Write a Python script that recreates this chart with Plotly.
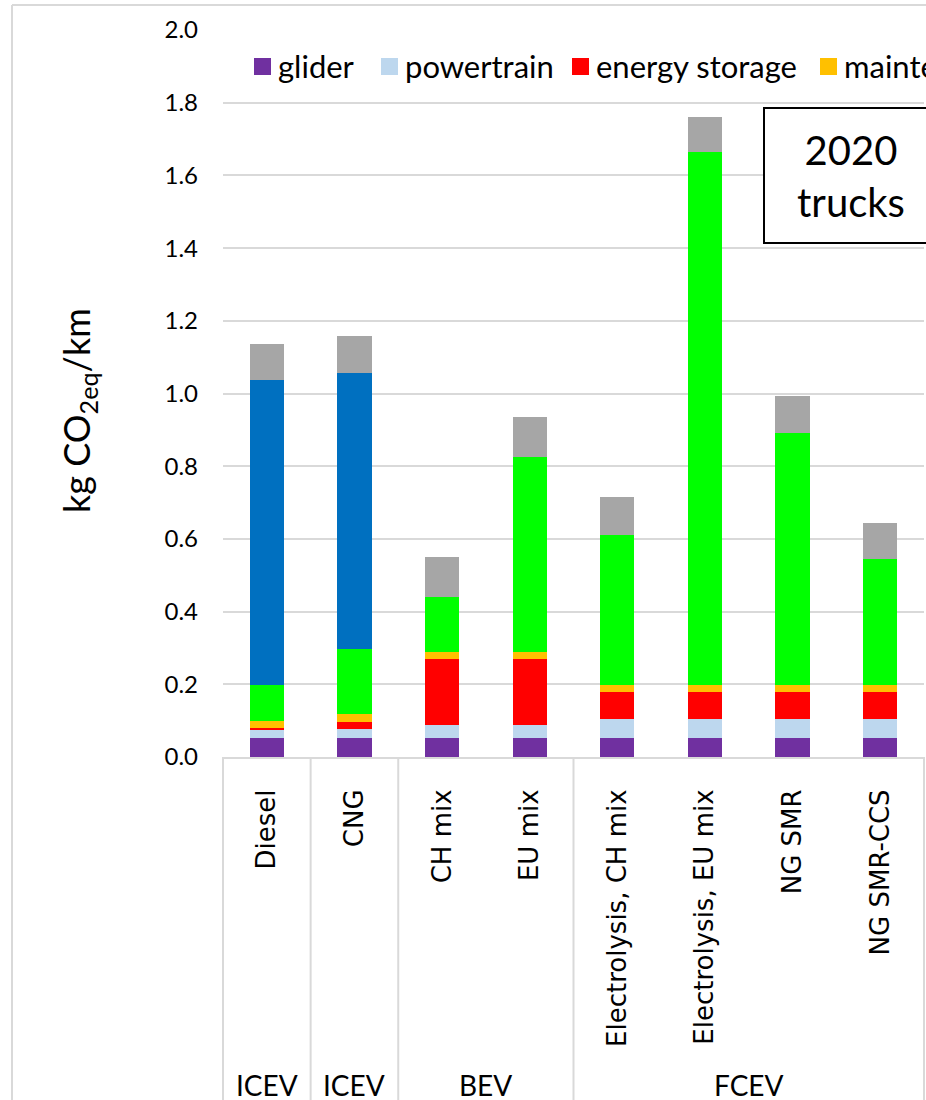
import plotly.graph_objects as go

# Life-cycle GHG emissions of 2020 trucks, kg CO2-eq per km, by component
categories = ["Diesel", "CNG", "CH mix", "EU mix",
              "Electrolysis, CH mix", "Electrolysis, EU mix", "NG SMR", "NG SMR-CCS"]
glider = [0.052, 0.052, 0.052, 0.052, 0.052, 0.052, 0.052, 0.052]
powertrain = [0.024, 0.024, 0.035, 0.035, 0.053, 0.053, 0.053, 0.053]
energy_storage = [0.005, 0.020, 0.183, 0.183, 0.073, 0.073, 0.073, 0.073]
maintenance = [0.018, 0.022, 0.019, 0.019, 0.019, 0.019, 0.019, 0.019]
energy_chain = [0.099, 0.178, 0.150, 0.537, 0.415, 1.467, 0.695, 0.349]
direct_emissions = [0.839, 0.761, 0.0, 0.0, 0.0, 0.0, 0.0, 0.0]
road = [0.098, 0.101, 0.110, 0.110, 0.102, 0.097, 0.101, 0.098]

# drivetrain groups: (label, first category index, last category index)
groups = [("ICEV", 0, 0), ("ICEV", 1, 1), ("BEV", 2, 3), ("FCEV", 4, 7)]

series = [
    ("glider", glider, "#7030A0"),
    ("powertrain", powertrain, "#BDD7EE"),
    ("energy storage", energy_storage, "#FF0000"),
    ("maintenance", maintenance, "#FFC000"),
    ("energy chain", energy_chain, "#00FF00"),
    ("direct emissions", direct_emissions, "#0070C0"),
    ("road", road, "#A6A6A6"),
]
legend_shown = 4

W, H = 926, 1100
ML, MR, MT, MB = 223, 2, 30, 343
PW, PH = W - ML - MR, H - MT - MB
XMIN, XMAX = -0.5, len(categories) - 0.5


def px_x(p):
    return (p - ML) / PW


def px_y(p):
    return (H - MB - p) / PH


def data_x(v):
    return (v - XMIN) / (XMAX - XMIN)


xpos = list(range(len(categories)))
fig = go.Figure()
for name, vals, col in series:
    fig.add_trace(go.Bar(x=xpos, y=vals, name=name, marker_color=col,
                         marker_line_width=0, width=0.39, showlegend=False))

shapes = []
annotations = []
grid = "#D9D9D9"

# outer chart frame
shapes.append(dict(type="line", xref="paper", yref="paper",
                   x0=px_x(12), x1=px_x(12), y0=px_y(5), y1=px_y(1120),
                   line=dict(color=grid, width=2)))
shapes.append(dict(type="line", xref="paper", yref="paper",
                   x0=px_x(12), x1=px_x(960), y0=px_y(5), y1=px_y(5),
                   line=dict(color=grid, width=2)))

# group dividers and group labels below the category axis
bounds = sorted({g[1] - 0.5 for g in groups} | {g[2] + 0.5 for g in groups})
for b in bounds:
    shapes.append(dict(type="line", xref="paper", yref="paper",
                       x0=data_x(b), x1=data_x(b), y0=0, y1=px_y(1120),
                       line=dict(color=grid, width=2)))
for label, i0, i1 in groups:
    annotations.append(dict(text=label, xref="paper", yref="paper",
                            x=data_x((i0 + i1) / 2), y=px_y(1085),
                            xanchor="center", yanchor="middle", showarrow=False,
                            font=dict(family="Lato", size=28, color="#000000")))

# legend row across the top of the chart
legend_sq = [254, 381, 572, 820]
for (name, vals, col), sx in zip(series[:legend_shown], legend_sq):
    shapes.append(dict(type="rect", xref="paper", yref="paper",
                       x0=px_x(sx), x1=px_x(sx + 17), y0=px_y(58), y1=px_y(75),
                       fillcolor=col, line=dict(width=0)))
    annotations.append(dict(text=name, xref="paper", yref="paper",
                            x=px_x(sx + 22), y=px_y(66), xanchor="left",
                            yanchor="middle", showarrow=False,
                            font=dict(family="Lato", size=31, color="#000000")))

# "2020 trucks" label box
shapes.append(dict(type="rect", xref="paper", yref="paper",
                   x0=px_x(764), x1=px_x(940), y0=px_y(108), y1=px_y(243),
                   line=dict(color="#000000", width=2), fillcolor="white"))
annotations.append(dict(text="2020<br>trucks", xref="paper", yref="paper",
                        x=px_x(851), y=px_y(176), xanchor="center", yanchor="middle",
                        showarrow=False,
                        font=dict(family="Lato", size=40, color="#000000")))

# y-axis title
annotations.append(dict(text="kg CO<sub>2eq</sub>/km", xref="paper", yref="paper",
                        x=px_x(79), y=px_y(411), xanchor="center", yanchor="middle",
                        textangle=-90, showarrow=False,
                        font=dict(family="Lato", size=36, color="#000000")))

fig.update_layout(
    width=W, height=H,
    margin=dict(l=ML, r=MR, t=MT, b=MB, pad=0),
    barmode="stack",
    paper_bgcolor="white", plot_bgcolor="white",
    shapes=shapes, annotations=annotations,
    xaxis=dict(range=[XMIN, XMAX], tickmode="array", tickvals=xpos,
               ticktext=categories, tickangle=-90, ticks="", showgrid=False,
               showline=True, linecolor=grid, linewidth=2, zeroline=False,
               ticklabelstandoff=20,
               tickfont=dict(family="DejaVu Sans", size=26, color="#000000")),
    yaxis=dict(range=[0, 2.0], dtick=0.2, tickformat=".1f", showgrid=True,
               gridcolor=grid, gridwidth=1.5, zeroline=False, showline=False,
               ticks="", ticklabelstandoff=24,
               tickfont=dict(family="Lato", size=24, color="#000000")),
)

fig.write_html("out.html")
